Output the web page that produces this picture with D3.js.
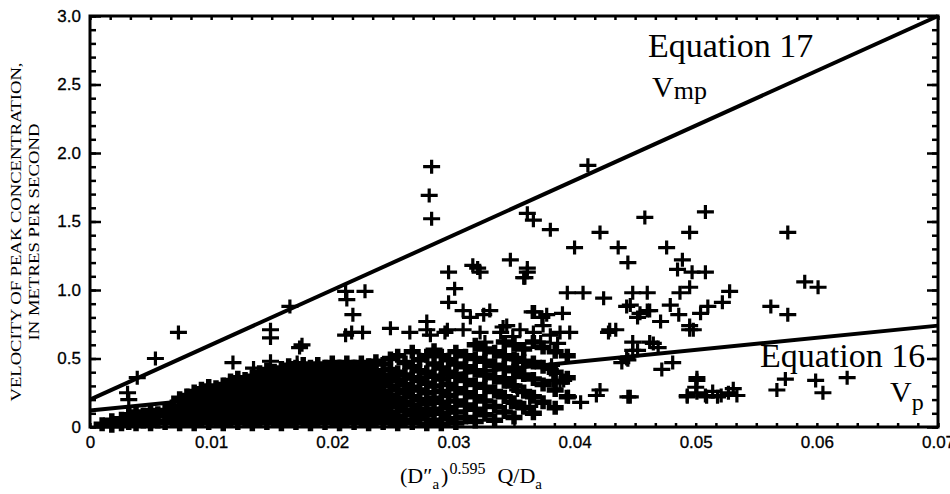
<!DOCTYPE html>
<html><head><meta charset="utf-8">
<script src="https://cdn.jsdelivr.net/npm/d3@7"></script>
<style>body{margin:0;background:#fff}svg{display:block}</style>
</head><body>
<svg id="c" width="950" height="494"></svg>
<script>
// ---- data ----
const xTicks = [0, 0.01, 0.02, 0.03, 0.04, 0.05, 0.06, 0.07];
const xTickLabels = ["0", "0.01", "0.02", "0.03", "0.04", "0.05", "0.06", "0.07"];
const yTicks = [0, 0.5, 1.0, 1.5, 2.0, 2.5, 3.0];
const yTickLabels = ["0", "0.5", "1.0", "1.5", "2.0", "2.5", "3.0"];

// Equation lines (endpoints)
const eq17X = [0, 0.07], eq17Y = [0.2, 3.0];
const eq16X = [0, 0.07], eq16Y = [0.12, 0.74];

// scattered observations [x, velocity]
const scatterHigh = [
  [0.0282,1.90],[0.0280,1.69],[0.0282,1.52],[0.0411,1.91],
  [0.0361,1.56],[0.0366,1.51],[0.0380,1.44],
  [0.0421,1.42],[0.0458,1.53],[0.0508,1.57],[0.0495,1.42],
  [0.0400,1.31],[0.0436,1.31],[0.0444,1.20],[0.0476,1.31],[0.0489,1.22],[0.0485,1.15],
  [0.0497,1.13],[0.0508,1.13],[0.0495,1.02],[0.0487,0.98],
  [0.0347,1.22],[0.0361,1.16],[0.0359,1.09],
  [0.0394,0.98],[0.0407,0.98],[0.0424,0.94],[0.0448,0.98],[0.0460,0.98],[0.0446,0.89],
  [0.0462,0.85],[0.0452,0.80],[0.0471,0.77],[0.0479,0.89],[0.0486,0.82],[0.0504,0.83],
  [0.0510,0.88],[0.0522,0.91],[0.0528,0.99],[0.0498,0.71],[0.0495,0.74],
  [0.0562,0.88],[0.0576,0.82],[0.0576,1.42],[0.0590,1.06],[0.0601,1.02],
  [0.0296,1.13],[0.0316,1.18],[0.0322,1.13],[0.0301,1.01],[0.0296,0.91],[0.0308,0.85],
  [0.0314,0.80],[0.0330,0.85],[0.0325,0.82],[0.0320,1.16],[0.0361,1.13],[0.0358,1.09],
  [0.0211,0.99],[0.0227,0.99],[0.0212,0.93],[0.0217,0.82],[0.0165,0.88]
];
const scatterMid = [
  [0.0295,0.71],[0.0341,0.73],[0.0264,0.69],[0.0281,0.67],[0.0278,0.77],[0.0248,0.72],
  [0.0211,0.67],[0.0225,0.69],[0.0216,0.69],
  [0.0073,0.69],[0.0054,0.50],[0.0039,0.36],[0.0031,0.25],[0.0032,0.20],
  [0.0118,0.47],[0.0135,0.43],[0.0149,0.71],[0.0149,0.65],[0.0149,0.48],[0.0173,0.58],
  [0.0171,0.47],[0.0175,0.60],
  [0.0367,0.84],[0.0377,0.82],[0.0390,0.83],[0.0365,0.84],[0.0373,0.80],
  [0.0344,0.74],[0.0355,0.71],[0.0349,0.66],[0.0366,0.69],[0.0374,0.74],[0.0380,0.67],
  [0.0388,0.69],[0.0396,0.69],[0.0372,0.62],[0.0386,0.61],
  [0.0428,0.69],[0.0434,0.71],[0.0429,0.71],[0.0448,0.62],[0.0462,0.62],[0.0469,0.58],
  [0.0448,0.56],[0.0452,0.56],[0.0465,0.61],[0.0495,0.71],
  [0.0443,0.88],[0.0454,0.83],[0.0460,0.85],
  [0.0339,0.69],[0.0322,0.69],[0.0308,0.71],[0.0326,0.62],[0.0278,0.71],[0.0293,0.69]
];
const scatterLow = [
  [0.0439,0.47],[0.0443,0.50],[0.0472,0.42],[0.0481,0.47],[0.0444,0.49],
  [0.0501,0.34],[0.0493,0.22],[0.0501,0.25],[0.0509,0.22],[0.0518,0.22],[0.0514,0.26],
  [0.0531,0.28],[0.0534,0.23],[0.0567,0.27],[0.0574,0.35],[0.0501,0.36],[0.0500,0.29],
  [0.0444,0.22],[0.0446,0.22],[0.0421,0.27],[0.0418,0.23],[0.0405,0.18],[0.0395,0.22],
  [0.0388,0.32],[0.0391,0.34],[0.0380,0.42],[0.0381,0.45],[0.0382,0.34],
  [0.0353,0.49],[0.0349,0.36],[0.0353,0.27],[0.0347,0.18],[0.0363,0.22],[0.0363,0.15],
  [0.0599,0.34],[0.0605,0.25],[0.0625,0.36],
  [0.0493,0.23],[0.0508,0.23],[0.0521,0.23],[0.0527,0.25]
];

// dense cluster, read column by column (x, then velocities in that column)
const denseX = [0.0010,0.0018,0.0026,0.0032,0.0038,0.0044,0.0050,0.0056,0.0062,0.0068,
  0.0074,0.0080,0.0086,0.0092,0.0098,0.0104,0.0110,0.0116,0.0122,0.0128,
  0.0134,0.0140,0.0146,0.0152,0.0158,0.0164,0.0170,0.0176,0.0182,0.0188,
  0.0194,0.0200,0.0206,0.0212,0.0218,0.0224,0.0230,0.0236,0.0242,0.0248,
  0.0254,0.0260,0.0266,0.0272,0.0278,0.0284,0.0290,0.0296,0.0302,0.0310,
  0.0318,0.0326,0.0334,0.0342,0.0350,0.0358,0.0366,0.0374,0.0384,0.0394];
const denseY = [
  [0.02],[0.01,0.05],[0.02,0.06],[0.03,0.09],[0.02,0.06,0.11],
  [0.04,0.09],[0.02,0.07,0.12],[0.04,0.10],[0.03,0.08,0.12],[0.05,0.11,0.15],
  [0.02,0.08,0.14,0.21],[0.05,0.11,0.17,0.23],[0.02,0.08,0.14,0.20,0.26],[0.05,0.11,0.17,0.23,0.28],[0.03,0.08,0.14,0.20,0.26,0.30],
  [0.05,0.11,0.17,0.23,0.29],[0.02,0.08,0.14,0.20,0.26,0.31],[0.05,0.11,0.17,0.23,0.29,0.34],[0.03,0.08,0.14,0.20,0.26,0.32,0.36],[0.05,0.11,0.17,0.23,0.29,0.35],
  [0.02,0.08,0.14,0.20,0.26,0.32,0.37],[0.05,0.11,0.17,0.23,0.29,0.35,0.40],[0.03,0.08,0.14,0.20,0.26,0.32,0.38,0.42],[0.05,0.11,0.17,0.23,0.29,0.35,0.41],[0.02,0.08,0.14,0.20,0.26,0.32,0.38,0.43],
  [0.05,0.11,0.17,0.23,0.29,0.35,0.41,0.45],[0.03,0.08,0.14,0.20,0.26,0.32,0.38,0.44],[0.05,0.11,0.17,0.23,0.29,0.35,0.41,0.46],[0.02,0.08,0.14,0.20,0.26,0.32,0.38,0.44],[0.05,0.11,0.17,0.23,0.29,0.35,0.41,0.46],
  [0.03,0.08,0.14,0.20,0.26,0.32,0.38,0.44],[0.05,0.11,0.17,0.23,0.29,0.35,0.41,0.47],[0.02,0.08,0.14,0.20,0.26,0.32,0.38,0.44],[0.05,0.11,0.17,0.23,0.29,0.35,0.41,0.47],[0.03,0.08,0.14,0.20,0.26,0.32,0.38,0.44],
  [0.05,0.11,0.17,0.23,0.29,0.35,0.41,0.47],[0.02,0.08,0.14,0.20,0.26,0.32,0.38,0.45],[0.05,0.11,0.17,0.23,0.29,0.35,0.41,0.48],[0.03,0.08,0.14,0.20,0.26,0.32,0.38,0.46],[0.05,0.11,0.17,0.23,0.30,0.36,0.42,0.50],
  [0.02,0.08,0.15,0.21,0.27,0.34,0.40,0.52],[0.05,0.12,0.18,0.25,0.31,0.38,0.47],[0.03,0.09,0.16,0.22,0.29,0.36,0.44,0.55],[0.06,0.13,0.20,0.27,0.34,0.41,0.49],[0.02,0.09,0.17,0.25,0.32,0.40,0.52],
  [0.05,0.13,0.21,0.30,0.37,0.46,0.56],[0.02,0.10,0.18,0.26,0.35,0.43,0.52],[0.06,0.14,0.23,0.31,0.40,0.49],[0.03,0.11,0.19,0.28,0.37,0.46,0.55],[0.07,0.16,0.25,0.34,0.44,0.52],
  [0.04,0.13,0.22,0.31,0.41,0.50,0.60],[0.09,0.19,0.29,0.38,0.48,0.57],[0.05,0.15,0.26,0.36,0.45,0.55],[0.11,0.22,0.33,0.43,0.52,0.62],[0.07,0.18,0.30,0.41,0.50,0.60],
  [0.14,0.26,0.38,0.48,0.57],[0.10,0.22,0.35,0.47,0.62],[0.18,0.31,0.44,0.58],[0.14,0.27,0.40,0.55],[0.22,0.36,0.52]
];

// ---- drawing ----
const x = d3.scaleLinear().domain([0, 0.07]).range([90, 938]);
const y = d3.scaleLinear().domain([0, 3.0]).range([427, 16]);
const svg = d3.select("#c");

const sparse = [].concat(scatterHigh, scatterMid, scatterLow);
const dense = [];
denseX.forEach((xv, i) => denseY[i].forEach(yv => dense.push([xv, yv])));

const plot = svg.append("g");
plot.selectAll("path.dn").data(dense).enter().append("path")
  .attr("class", "dn")
  .attr("d", "M-8.5,0H8.5M0,-7V7")
  .attr("transform", d => `translate(${x(d[0])},${y(d[1])})`)
  .attr("stroke", "#000").attr("stroke-width", 5.5).attr("fill", "none");
plot.selectAll("path.pt").data(sparse).enter().append("path")
  .attr("class", "pt")
  .attr("d", "M-8.5,0H8.5M0,-7V7")
  .attr("transform", d => `translate(${x(d[0])},${y(d[1])})`)
  .attr("stroke", "#000").attr("stroke-width", 3.2).attr("fill", "none");

// equation lines
const line = d3.line().x(d => x(d[0])).y(d => y(d[1]));
[[eq17X, eq17Y], [eq16X, eq16Y]].forEach(([xs, ys]) => {
  plot.append("path").attr("d", line(xs.map((v, i) => [v, ys[i]])))
    .attr("stroke", "#000").attr("stroke-width", 4).attr("fill", "none");
});

// axes
const minorY = d3.range(0, 3.001, 0.1);
const minorX = d3.range(0, 0.0701, 0.01 / 6);
function styleAxis(g) { g.select(".domain").remove(); g.selectAll("line").attr("stroke", "#000").attr("stroke-width", 2.5); }
const sans = "Liberation Sans, Arial, sans-serif";

svg.append("g").attr("transform", "translate(90,0)")
  .call(d3.axisLeft(y).tickValues(minorY).tickSize(-6).tickFormat("")).call(styleAxis);
svg.append("g").attr("transform", "translate(90,0)")
  .call(d3.axisLeft(y).tickValues(yTicks).tickSize(-11).tickPadding(9)
    .tickFormat((d, i) => yTickLabels[i])).call(styleAxis)
  .selectAll("text").attr("font-family", sans).attr("font-size", 17).attr("fill", "#000")
  .attr("stroke", "#000").attr("stroke-width", 0.3);
svg.append("g").attr("transform", "translate(938,0)")
  .call(d3.axisRight(y).tickValues(minorY).tickSize(-6).tickFormat("")).call(styleAxis);
svg.append("g").attr("transform", "translate(938,0)")
  .call(d3.axisRight(y).tickValues(yTicks).tickSize(-11).tickFormat("")).call(styleAxis);
svg.append("g").attr("transform", "translate(0,16)")
  .call(d3.axisTop(x).tickValues(minorX).tickSize(-4).tickFormat("")).call(styleAxis);
svg.append("g").attr("transform", "translate(0,427)")
  .call(d3.axisBottom(x).tickValues(minorX).tickSize(-4).tickFormat("")).call(styleAxis);
svg.append("g").attr("transform", "translate(0,427)")
  .call(d3.axisBottom(x).tickValues(xTicks).tickSize(0).tickPadding(9)
    .tickFormat((d, i) => xTickLabels[i])).call(styleAxis)
  .selectAll("text").attr("font-family", sans).attr("font-size", 17).attr("fill", "#000")
  .attr("stroke", "#000").attr("stroke-width", 0.3);

// frame
svg.append("rect").attr("x", x(0)).attr("y", y(3)).attr("width", x(0.07) - x(0)).attr("height", y(0) - y(3))
  .attr("fill", "none").attr("stroke", "#000").attr("stroke-width", 3);

// equation labels
const serif = "Liberation Serif, Times New Roman, serif";
svg.append("text").attr("x", 648).attr("y", 57).attr("font-family", serif).attr("font-size", 34).text("Equation 17");
const t17 = svg.append("text").attr("x", 652).attr("y", 97).attr("font-family", serif).attr("font-size", 30).text("V");
t17.append("tspan").attr("font-size", 26).attr("dy", 2).text("mp");
svg.append("text").attr("x", 760).attr("y", 367).attr("font-family", serif).attr("font-size", 34).text("Equation 16");
const t16 = svg.append("text").attr("x", 890).attr("y", 402).attr("font-family", serif).attr("font-size", 30).text("V");
t16.append("tspan").attr("font-size", 24).attr("dy", 8).text("p");

// axis titles
svg.append("text").attr("transform", "translate(21,232) rotate(-90)").attr("text-anchor", "middle")
  .attr("font-family", serif).attr("font-size", 15).attr("textLength", 339).attr("lengthAdjust", "spacingAndGlyphs")
  .text("VELOCITY OF PEAK CONCENTRATION,");
svg.append("text").attr("transform", "translate(39,232) rotate(-90)").attr("text-anchor", "middle")
  .attr("font-family", serif).attr("font-size", 15).attr("textLength", 217).attr("lengthAdjust", "spacingAndGlyphs")
  .text("IN METRES PER SECOND");

const xt = svg.append("text").attr("x", 400).attr("y", 483).attr("font-family", serif).attr("font-size", 22).text("(D\u2033");
xt.append("tspan").attr("font-size", 15).attr("dy", 6).text("a");
xt.append("tspan").attr("font-size", 22).attr("dy", -6).attr("dx", 2).text(")");
xt.append("tspan").attr("font-size", 16).attr("dy", -9).attr("dx", 1).text("0.595");
xt.append("tspan").attr("font-size", 22).attr("dy", 9).attr("dx", 12).text("Q/D");
xt.append("tspan").attr("font-size", 15).attr("dy", 6).text("a");
</script>
</body></html>
